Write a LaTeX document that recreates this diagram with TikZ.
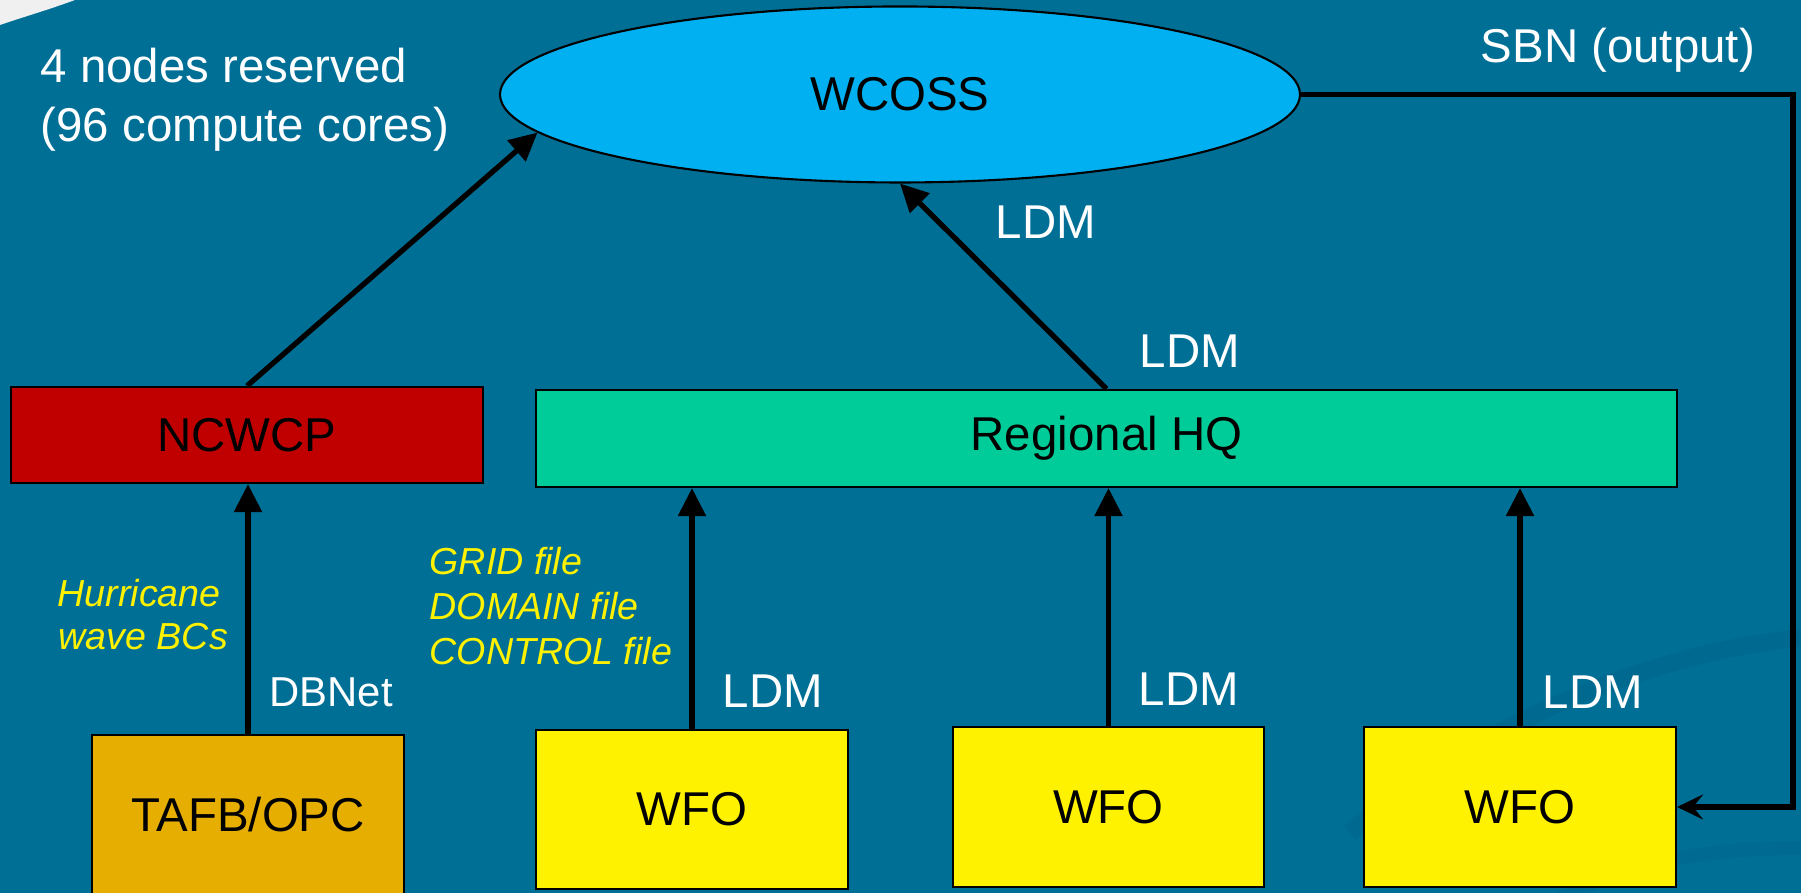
\documentclass[tikz,border=0pt]{standalone}
\usepackage{fontspec}
\setmainfont{Liberation Sans}
\usetikzlibrary{arrows.meta,shapes.geometric}
\definecolor{slideblue}{RGB}{0,111,150}
\definecolor{slidedark}{RGB}{0,100,140}
\definecolor{wcossblue}{RGB}{0,176,240}
\definecolor{ncwcpred}{RGB}{192,0,0}
\definecolor{hqgreen}{RGB}{0,204,153}
\definecolor{tafbgold}{RGB}{229,174,0}
\tikzset{
	bigtext/.style={font=\fontsize{13.5}{16}\selectfont},
	lbl/.style={bigtext, text=white, inner sep=0},
	note/.style={text=yellow, inner sep=0, font=\itshape\fontsize{10.7}{12.8}\selectfont},
	site/.style={draw=black, line width=0.6pt, inner sep=0, bigtext},
	flow/.style={line width=1.5pt, arrows={-{Triangle[length=2.8mm,width=2.7mm]}}},
}
\begin{document}
\begin{tikzpicture}
	\useasboundingbox (0,0) rectangle (18.01,8.93);
	\fill [slideblue] (0,0) rectangle (18.01,8.93);
	\fill [white!88!gray] (0,8.93) -- (0.75,8.93) .. controls (0.45,8.82) and (0.2,8.75) .. (0,8.68) -- cycle;
	\draw [slidedark, line width=5pt, opacity=0.5] (13.5,0.6) .. controls (14.8,1.7) and (16.5,2.4) .. (18.01,2.55);
	\draw [slidedark, line width=4pt, opacity=0.4] (15.6,-0.05) .. controls (16.4,0.35) and (17.2,0.45) .. (18.01,0.45);

	\node (wcoss) [ellipse, draw=black, line width=0.6pt, fill=wcossblue, minimum width=8cm, minimum height=1.76cm, inner sep=0, bigtext] at (9,7.985) {WCOSS};
	\node (ncwcp) [site, fill=ncwcpred, minimum width=4.72cm, minimum height=0.96cm] at (2.47,4.58) {NCWCP};
	\node (hq) [site, fill=hqgreen, minimum width=11.41cm, minimum height=0.97cm] at (11.065,4.545) {Regional HQ};
	\node (tafb) [site, fill=tafbgold, minimum width=3.12cm, minimum height=1.6cm] at (2.48,0.78) {TAFB/OPC};
	\node (wfo1) [site, fill=yellow, minimum width=3.12cm, minimum height=1.59cm] at (6.92,0.835) {WFO};
	\node (wfo2) [site, fill=yellow, minimum width=3.11cm, minimum height=1.6cm] at (11.085,0.86) {WFO};
	\node (wfo3) [site, fill=yellow, minimum width=3.12cm, minimum height=1.6cm] at (15.2,0.86) {WFO};
	\coordinate (sbnx) at (17.93,0);

	\draw [flow] (ncwcp.north) -- (wcoss.186);
	\draw [flow] (hq.north) -- (wcoss.south);
	\draw [flow] (tafb.north) -- (tafb.north |- ncwcp.south);
	\draw [flow] (wfo1.north) -- (wfo1.north |- hq.south);
	\draw [flow] (wfo2.north) -- (wfo2.north |- hq.south);
	\draw [flow] (wfo3.north) -- (wfo3.north |- hq.south);
	\draw [line width=1.5pt, arrows={-{Stealth[length=2.6mm,width=2.5mm,inset=1mm]}}] (wcoss.east) -- (wcoss.east -| sbnx) |- (wfo3.east);

	\node (reserved) [lbl, anchor=base west] at (0.40,8.10) {4 nodes reserved};
	\node (cores) [lbl, anchor=base west] at (0.40,7.51) {(96 compute cores)};
	\node (sbn) [lbl, anchor=base west] at (14.8,8.30) {SBN (output)};
	\node (ldmtop) [lbl, anchor=base west] at (9.95,6.54) {LDM};
	\node (ldmhq) [lbl, anchor=base west] at (11.39,5.25) {LDM};
	\node (ldmone) [lbl, anchor=base west] at (7.22,1.85) {LDM};
	\node (ldmtwo) [lbl, anchor=base west] at (11.38,1.87) {LDM};
	\node (ldmthree) [lbl, anchor=base west] at (15.42,1.84) {LDM};
	\node (dbnet) [lbl, anchor=base west, font=\fontsize{11.9}{14}\selectfont] at (2.69,1.86) {DBNet};
	\node (hurr) [note, anchor=base west] at (0.57,2.86) {Hurricane};
	\node (wavebc) [note, anchor=base west] at (0.58,2.43) {wave BCs};
	\node (gridf) [note, anchor=base west] at (4.29,3.18) {GRID file};
	\node (domainf) [note, anchor=base west] at (4.29,2.73) {DOMAIN file};
	\node (controlf) [note, anchor=base west] at (4.29,2.28) {CONTROL file};
\end{tikzpicture}
\end{document}
